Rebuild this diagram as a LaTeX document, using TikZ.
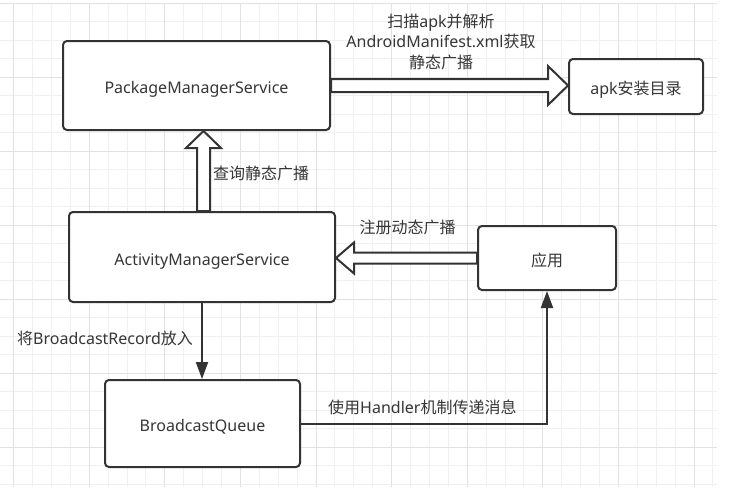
\documentclass[tikz,border=0pt]{standalone}
\usepackage{fontspec}
\setmainfont{Noto Sans}
\newfontfamily\cjk{Noto Sans CJK SC}
\usetikzlibrary{calc,arrows.meta}
\definecolor{linec}{HTML}{333333}
\definecolor{textc}{HTML}{363636}
\definecolor{gridminor}{HTML}{F0F0F0}
\definecolor{gridmajor}{HTML}{E2E2E2}
\begin{document}
\begin{tikzpicture}[x=1pt,y=-1pt,
  font=\fontsize{16}{20.5}\selectfont,
  box/.style={draw=linec, line width=2pt, rounded corners=4pt, fill=white, inner sep=0pt, text=textc, text height=16pt, text depth=0pt},
  blockarrow/.style={draw=linec, line width=2pt, fill=white, line join=miter},
  thinarrow/.style={draw=linec, line width=2pt, -{Triangle[length=17pt,width=12pt]}},
  lbl/.style={text=textc, inner sep=0pt}]
\useasboundingbox[fill=white] (0,0) rectangle (732,498);
% grid
\foreach \k in {0,...,37} \draw[gridminor, line width=1pt] ({13.6+18.9*\k},3) -- ({13.6+18.9*\k},487);
\foreach \k in {0,...,26} \draw[gridminor, line width=1pt] (0,{3+18.5*\k}) -- (717,{3+18.5*\k});
\foreach \k in {0,4,...,36} \draw[gridmajor, line width=1pt] ({13.6+18.9*\k},3) -- ({13.6+18.9*\k},487);
\foreach \k in {0,4,...,24} \draw[gridmajor, line width=1pt] (0,{3+18.5*\k}) -- (717,{3+18.5*\k});
% boxes
\node[box, minimum width=267pt, minimum height=89pt] (pms) at (196.5,85.5) {PackageManagerService};
\node[box, minimum width=266pt, minimum height=90pt] (ams) at (202,257) {ActivityManagerService};
\node[box, minimum width=195pt, minimum height=87pt] (bq) at (202.5,423.5) {BroadcastQueue};
\node[box, minimum width=134pt, minimum height=55pt] (apk) at (636,86.5) {apk{\cjk 安装目录}};
\node[box, minimum width=138pt, minimum height=64pt] (app) at (547,258) {\cjk 应用};
% block arrow pms -> apk
\coordinate (pt) at (apk.west |- pms.east);
\draw[blockarrow] ($(pms.east)+(0,-6.5)$) -- ($(pt)+(-20,-6.5)$) -- ($(pt)+(-20,-19.5)$) -- (pt)
  -- ($(pt)+(-20,19.5)$) -- ($(pt)+(-20,6.5)$) -- ($(pms.east)+(0,6.5)$) -- cycle;
% block arrow ams -> pms
\coordinate (vb) at ($(ams.north)+(1.5,0)$);
\coordinate (vt) at (vb |- pms.south);
\draw[blockarrow] ($(vb)+(-6.5,0)$) -- ($(vt)+(-6.5,17)$) -- ($(vt)+(-17.5,17)$) -- (vt)
  -- ($(vt)+(17.5,17)$) -- ($(vt)+(6.5,17)$) -- ($(vb)+(6.5,0)$) -- cycle;
% block arrow app -> ams
\coordinate (hb) at (app.west);
\coordinate (ht) at (ams.east |- app.west);
\draw[blockarrow] ($(hb)+(0,-5.5)$) -- ($(ht)+(18,-5.5)$) -- ($(ht)+(18,-15.5)$) -- (ht)
  -- ($(ht)+(18,15.5)$) -- ($(ht)+(18,5.5)$) -- ($(hb)+(0,5.5)$) -- cycle;
% thin arrows
\draw[thinarrow] (ams.south) -- (ams.south |- bq.north);
\draw[thinarrow] (bq.east) -| (app.south);
% labels
\node[lbl, align=center] (t1) at (441,41.5) {{\cjk 扫描}apk{\cjk 并解析}\\AndroidManifest.xml{\cjk 获取}\\{\cjk 静态广播}};
\node[lbl, anchor=west] (t2) at (213,173) {\cjk 查询静态广播};
\node[lbl] (t3) at (407.5,227) {\cjk 注册动态广播};
\node[lbl, anchor=west] (t4) at (17,338.5) {{\cjk 将}BroadcastRecord{\cjk 放入}};
\node[lbl, anchor=west] (t5) at (328,407.5) {{\cjk 使用}Handler{\cjk 机制传递消息}};
\end{tikzpicture}
\end{document}
